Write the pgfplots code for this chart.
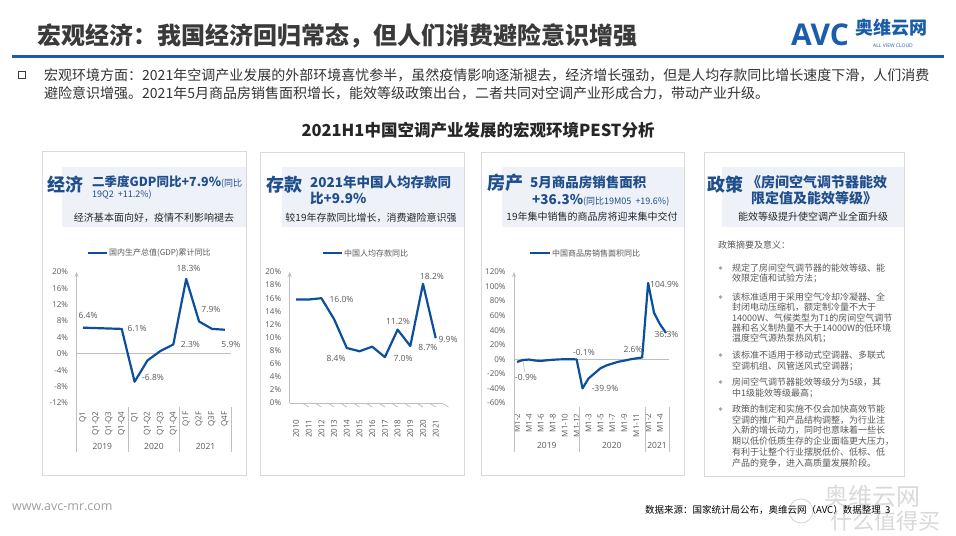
\documentclass[border=0pt]{standalone}
\usepackage{fontspec}
\setmainfont{Noto Sans CJK SC}
\newfontfamily\os{Open Sans}
\usepackage{pgfplots}
\pgfplotsset{compat=1.18}
\usetikzlibrary{arrows.meta}
\definecolor{titlegray}{HTML}{3A3A3A}
\definecolor{bodygray}{HTML}{333333}
\definecolor{avcblue}{HTML}{1A5DAB}
\definecolor{hdrblue}{HTML}{1F4E8C}
\definecolor{lineblue}{HTML}{0C4F9C}
\definecolor{hdrshade}{HTML}{EEF2F8}
\definecolor{boxgray}{HTML}{D9D9D9}
\definecolor{labgray}{HTML}{595959}
\definecolor{axgray}{HTML}{BFBFBF}
\definecolor{subgray}{HTML}{262626}
\newcommand\fs[1]{\fontsize{#1bp}{#1bp}\selectfont}
\tikzset{lab/.style={font=\os\fs{8.5}, text=labgray, inner sep=0pt}}
\pgfplotsset{panel/.style={scale only axis, clip=false,
  axis line style={draw=none}, major tick length=0pt, tick style={draw=none},
  /pgf/number format/assume math mode=true,
  ticklabel style={font=\os\fs{8}, text=labgray},
  xticklabel style={rotate=90, anchor=east},
  yticklabel style={anchor=east}, yticklabel shift=5bp},
  dline/.style={lineblue, line width=2.2bp, line join=round, no markers}}
\begin{document}
\begin{tikzpicture}
\begin{scope}[x=1bp,y=-1bp, every node/.style={inner sep=0pt}]
\useasboundingbox (0,0) rectangle (956,536);
\fill[white] (0,0) rectangle (956,536);
% header
\node[anchor=west, font=\bfseries\fs{24}, text=titlegray] at (37,36) {宏观经济：我国经济回归常态，但人们消费避险意识增强};
\node[anchor=west, font=\os\bfseries\fs{30}, text=avcblue] at (791,35) {AVC};
\node[anchor=west, font=\bfseries\fs{18}, text=avcblue] at (855,28) {奥维云网};
\node[font=\os\fs{5}, text=avcblue] at (893,46) {ALL VIEW CLOUD};
\draw[avcblue, line width=3bp] (12,57) -- (944,57);
\draw[titlegray, line width=1bp] (18.5,71.5) rectangle (25.5,78.5);
\node[anchor=west, font=\fs{14}, text=bodygray] at (44,75) {宏观环境方面：2021年空调产业发展的外部环境喜忧参半，虽然疫情影响逐渐褪去，经济增长强劲，但是人均存款同比增长速度下滑，人们消费};
\node[anchor=west, font=\fs{14}, text=bodygray] at (44,93) {避险意识增强。2021年5月商品房销售面积增长，能效等级政策出台，二者共同对空调产业形成合力，带动产业升级。};
\node[font=\bfseries\fs{16.5}, text=subgray] at (478,130) {2021H1中国空调产业发展的宏观环境PEST分析};
% panels
\fill[hdrshade] (62,167) rectangle (245.5,227);
\fill[hdrshade] (282,167) rectangle (463.5,227);
\fill[hdrshade] (502,167) rectangle (683.5,227);
\fill[hdrshade] (722,167) rectangle (903.5,227);
\draw[boxgray, line width=0.8bp] (42,151) rectangle (246,475);
\draw[boxgray, line width=0.8bp] (260,152) rectangle (464,475);
\draw[boxgray, line width=0.8bp] (481,152) rectangle (684,475);
\draw[boxgray, line width=0.8bp] (704,152) rectangle (904,476);
\node[anchor=west, font=\bfseries\fs{18}, text=hdrblue] at (47,185) {经济};
\node[anchor=west, font=\bfseries\fs{18}, text=hdrblue] at (266,185) {存款};
\node[anchor=west, font=\bfseries\fs{18}, text=hdrblue] at (487,183) {房产};
\node[anchor=west, font=\bfseries\fs{18}, text=hdrblue] at (707,185) {政策};
\node[anchor=base west, text=hdrblue] at (92,187) {{\bfseries\fs{12.5}二季度GDP同比+7.9\%}{\fs{9}(同比}};
\node[anchor=west, text=hdrblue, font=\fs{9}] at (92,195) {19Q2 \ +11.2\%)};
\node[anchor=west, text=hdrblue, font=\bfseries\fs{13.5}] at (310,182) {2021年中国人均存款同};
\node[anchor=west, text=hdrblue, font=\bfseries\fs{13.5}] at (310,198) {比+9.9\%};
\node[anchor=west, text=hdrblue, font=\bfseries\fs{13.5}] at (530,182) {5月商品房销售面积};
\node[anchor=base west, text=hdrblue] at (532,205) {{\bfseries\fs{13.5}+36.3\%}{\fs{9}(同比19M05 \ +19.6\%)}};
\node[anchor=west, text=hdrblue, font=\bfseries\fs{14}] at (747,182) {《房间空气调节器能效};
\node[anchor=west, text=hdrblue, font=\bfseries\fs{14}] at (751,198) {限定值及能效等级》};
\node[text=subgray, font=\fs{10}] at (154,218) {经济基本面向好，疫情不利影响褪去};
\node[text=subgray, font=\fs{10}] at (371,218) {较19年存款同比增长，消费避险意识强};
\node[text=subgray, font=\fs{10}] at (592,217) {19年集中销售的商品房将迎来集中交付};
\node[text=subgray, font=\fs{10}] at (813,217) {能效等级提升使空调产业全面升级};
% legends
\draw[lineblue, line width=2bp] (88,253) -- (107,253);
\node[anchor=west, font=\fs{8}, text=labgray] at (109,253) {国内生产总值(GDP)累计同比};
\draw[lineblue, line width=2bp] (323,253) -- (342,253);
\node[anchor=west, font=\fs{8}, text=labgray] at (344,253) {中国人均存款同比};
\draw[lineblue, line width=2bp] (530,253) -- (550,253);
\node[anchor=west, font=\fs{8}, text=labgray] at (552,253) {中国商品房销售面积同比};
% panel 4 text
\node[anchor=west, font=\fs{9}, text=labgray] at (718,245) {政策摘要及意义：};
\foreach \y in {268,297,355,382,409} {\fill[gray!70] (720.5,\y) circle (1.8);}
\foreach \y/\t in {268/规定了房间空气调节器的能效等级、能, 278.5/效限定值和试验方法；,
  297/该标准适用于采用空气冷却冷凝器、全, 307.3/封闭电动压缩机，额定制冷量不大于, 317.6/14000W、气候类型为T1的房间空气调节, 327.9/器和名义制热量不大于14000W的低环境, 338.2/温度空气源热泵热风机；,
  355/该标准不适用于移动式空调器、多联式, 366.5/空调机组、风管送风式空调器；,
  382/房间空气调节器能效等级分为5级，其, 393/中1级能效等级最高；,
  409/政策的制定和实施不仅会加快高效节能, 419.8/空调的推广和产品结构调整，为行业注, 430.6/入新的增长动力，同时也意味着一些长, 441.4/期以低价低质生存的企业面临更大压力，, 452.2/有利于让整个行业摆脱低价、低标、低, 463/产品的竞争，进入高质量发展阶段。}
  {\node[anchor=west, font=\fs{9}, text=labgray] at (732,\y) {\t};}
% footer
\node[anchor=west, font=\os\fs{12.5}, text=gray!75] at (12,507) {www.avc-mr.com};
\draw[gray!35, line width=0.8bp] (801,511) circle (12);
\node[font=\fs{24}, text=gray!30] at (872,496) {奥维云网};
\node[font=\fs{22}, text=gray!30] at (885,521) {什么值得买};
\node[anchor=west, font=\fs{9.5}, text=black] at (645,510) {数据来源：国家统计局公布，奥维云网（AVC）数据整理 \ 3};
\end{scope}

% chart 1: GDP
\begin{axis}[panel, at={(76.55bp,-403bp)}, anchor=south west,
  width=154.8bp, height=131bp, xmin=-0.5, xmax=11.5, ymin=-12, ymax=20,
  ytick={-12,-8,...,20}, yticklabels={-12\%,-8\%,-4\%,0\%,4\%,8\%,12\%,16\%,20\%},
  xtick={0,...,11}, xticklabels={Q1,Q1-Q2,Q1-Q3,Q1-Q4,Q1,Q1-Q2,Q1-Q3,Q1-Q4,Q1F,Q2F,Q3F,Q4F},
  xticklabel shift=5bp]
\draw[axgray, line width=0.8bp] (axis cs:-0.5,0) -- (axis cs:11.5,0);
\draw[axgray, line width=0.8bp, -{Stealth[length=5bp,width=4bp]}] (axis cs:-0.5,-24) -- (axis cs:-0.5,20);
\draw[axgray, line width=0.8bp] (axis cs:3.5,-13) -- (axis cs:3.5,-24);
\draw[axgray, line width=0.8bp] (axis cs:7.5,-13) -- (axis cs:7.5,-24);
\draw[axgray, line width=0.8bp] (axis cs:11.5,-13) -- (axis cs:11.5,-24);
\node[lab] at (axis cs:1.5,-22.7) {2019};
\node[lab] at (axis cs:5.5,-22.7) {2020};
\node[lab] at (axis cs:9.5,-22.7) {2021};
\addplot[dline] coordinates {(0,6.4)(1,6.3)(2,6.2)(3,6.1)(4,-6.8)(5,-1.6)(6,0.7)(7,2.3)(8,18.3)(9,7.9)(10,6.1)(11,5.9)};
\node[lab] at (axis cs:0.39,9.28) {6.4\%};
\node[lab] at (axis cs:4.19,6.1) {6.1\%};
\node[lab] at (axis cs:5.43,-5.86) {-6.8\%};
\node[lab] at (axis cs:8.33,2.2) {2.3\%};
\node[lab] at (axis cs:8.18,20.76) {18.3\%};
\node[lab] at (axis cs:9.92,10.75) {7.9\%};
\node[lab] at (axis cs:11.47,2.2) {5.9\%};
\end{axis}

% chart 2: deposits
\begin{axis}[panel, at={(289.65bp,-403bp)}, anchor=south west,
  width=152.4bp, height=131bp, xmin=-0.5, xmax=11.5, ymin=0, ymax=20,
  ytick={0,2,...,20}, yticklabels={0\%,2\%,4\%,6\%,8\%,10\%,12\%,14\%,16\%,18\%,20\%},
  xtick={0,...,11}, xticklabels={2010,2011,2012,2013,2014,2015,2016,2017,2018,2019,2020,2021},
  xticklabel shift=13bp]
\draw[axgray, line width=0.8bp] (axis cs:-0.5,0) -- (axis cs:11.5,0);
\draw[axgray, line width=0.8bp, -{Stealth[length=5bp,width=4bp]}] (axis cs:-0.5,0) -- (axis cs:-0.5,20);
\pgfplotsinvokeforeach{0.5,1.5,2.5,3.5,4.5,5.5,6.5,7.5,8.5,9.5,10.5,11.5}{
  \draw[axgray, line width=0.8bp] (axis cs:#1,0) -- ++(0,-4bp);}
\addplot[dline] coordinates {(0,15.8)(1,15.8)(2,16.0)(3,12.8)(4,8.4)(5,7.9)(6,8.6)(7,7.0)(8,11.2)(9,8.7)(10,18.2)(11,9.9)};
\node[lab] at (axis cs:3.58,15.88) {16.0\%};
\node[lab] at (axis cs:3.15,6.87) {8.4\%};
\node[lab] at (axis cs:8.43,6.87) {7.0\%};
\node[lab] at (axis cs:8.03,12.37) {11.2\%};
\node[lab] at (axis cs:10.39,8.55) {8.7\%};
\node[lab] at (axis cs:10.71,19.39) {18.2\%};
\node[lab] at (axis cs:11.97,9.77) {9.9\%};
\end{axis}

% chart 3: housing
\begin{axis}[panel, at={(514.02bp,-403bp)}, anchor=south west,
  width=154.96bp, height=131bp, xmin=-0.5, xmax=25.5, ymin=-60, ymax=120,
  ytick={-60,-40,...,120}, yticklabels={-60\%,-40\%,-20\%,0\%,20\%,40\%,60\%,80\%,100\%,120\%},
  xtick={0,2,...,24}, xticklabels={M1-2,M1-4,M1-6,M1-8,M1-10,M1-12,M1-3,M1-5,M1-7,M1-9,M1-11,M1-2,M1-4},
  xticklabel shift=7bp]
\draw[axgray, line width=0.8bp] (axis cs:-0.5,0) -- (axis cs:25.5,0);
\draw[axgray, line width=0.8bp, -{Stealth[length=5bp,width=4bp]}] (axis cs:-0.5,-127.3) -- (axis cs:-0.5,120);
\draw[axgray, line width=0.8bp] (axis cs:10.5,-65.5) -- (axis cs:10.5,-127.3);
\draw[axgray, line width=0.8bp] (axis cs:21.5,-65.5) -- (axis cs:21.5,-127.3);
\draw[axgray, line width=0.8bp] (axis cs:25.5,-65.5) -- (axis cs:25.5,-127.3);
\node[lab] at (axis cs:5,-119) {2019};
\node[lab] at (axis cs:15.9,-119) {2020};
\node[lab] at (axis cs:23.5,-119) {2021};
\draw[axgray, line width=0.6bp] (axis cs:1.3,-17) -- (axis cs:1,-2);
\addplot[dline] coordinates {(0,-3.6)(1,-0.9)(2,-0.3)(3,-1.6)(4,-2.2)(5,-1.3)(6,-0.6)(7,-0.1)(8,0.1)(9,0.2)(10,-0.1)
 (11,-39.9)(12,-26.3)(13,-19.3)(14,-12.3)(15,-8.4)(16,-5.8)(17,-3.3)(18,-1.8)(19,0.0)(20,1.3)(21,2.6)
 (22,104.9)(23,63.8)(24,48.1)(25,36.3)};
\node[lab] at (axis cs:1.51,-24.3) {-0.9\%};
\node[lab] at (axis cs:11.24,10.0) {-0.1\%};
\node[lab] at (axis cs:14.77,-39.4) {-39.9\%};
\node[lab] at (axis cs:19.46,14.15) {2.6\%};
\node[lab] at (axis cs:24.75,103.5) {104.9\%};
\node[lab] at (axis cs:25.08,34.8) {36.3\%};
\end{axis}
\end{tikzpicture}
\end{document}
